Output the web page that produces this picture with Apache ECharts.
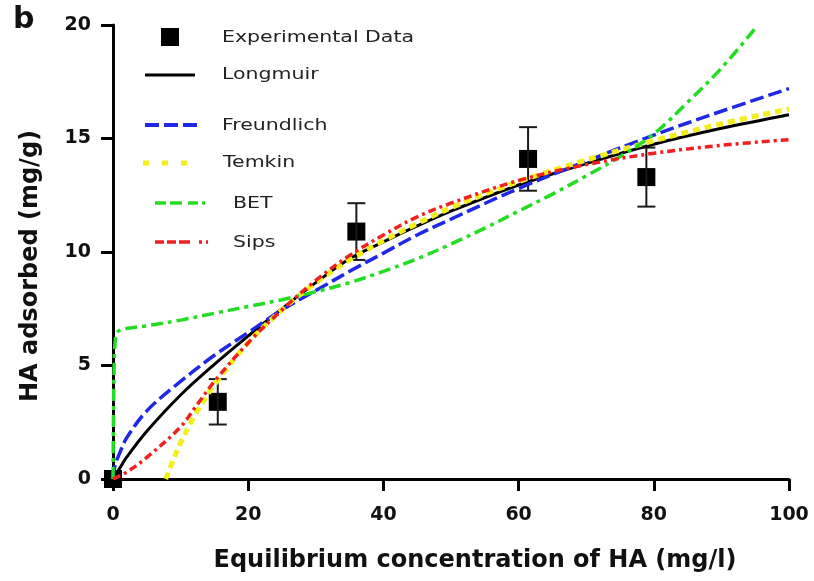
<!DOCTYPE html>
<html>
<head>
<meta charset="utf-8">
<script src="https://cdn.jsdelivr.net/npm/echarts@6/dist/echarts.min.js"></script>
<style>
  html, body { margin: 0; padding: 0; background: #fff; }
  #chart { width: 814px; height: 581px; }
</style>
</head>
<body>
<div id="chart"></div>
<script>
// Measured HA adsorption (mean ± error)
const conc = [0, 15.5, 36, 61.4, 78.9];
const adsorbed = [0, 3.4, 10.9, 14.1, 13.3];
const errBar = [0, 1.0, 1.25, 1.4, 1.3];

// Fitted isotherm curves
const langmuirC = [0, 1, 2, 5, 10, 15, 20, 25, 30, 35, 40, 45, 50, 60, 70, 80, 90, 100];
const langmuirQ = [0, 0.48, 0.95, 2.1, 3.7, 5.05, 6.3, 7.5, 8.65, 9.7, 10.45, 11.15, 11.8, 12.95, 13.9, 14.75, 15.45, 16.05];

const freundlichC = [0, 0.3, 1, 2, 5, 10, 15, 20, 25, 30, 35, 40, 45, 50, 60, 70, 80, 90, 100];
const freundlichQ = [0, 0.6, 1.15, 1.8, 3.0, 4.3, 5.45, 6.45, 7.45, 8.3, 9.15, 9.95, 10.75, 11.45, 12.8, 14.0, 15.15, 16.2, 17.2];

const temkinC = [7.8, 9, 10, 12, 15, 20, 25, 30, 35, 40, 45, 50, 60, 70, 80, 90, 100];
const temkinQ = [0, 0.9, 1.6, 2.75, 4.15, 6.0, 7.45, 8.65, 9.65, 10.5, 11.25, 11.95, 13.1, 14.05, 14.9, 15.65, 16.3];

const betC = [0, 0.15, 0.4, 1, 5, 10, 15, 20, 25, 30, 35, 40, 45, 50, 55, 60, 65, 70, 75, 80, 85, 90, 95];
const betQ = [0, 4.5, 6.3, 6.55, 6.75, 7.0, 7.3, 7.6, 7.9, 8.25, 8.65, 9.15, 9.7, 10.35, 11.05, 11.8, 12.55, 13.35, 14.2, 15.2, 16.6, 18.1, 19.85];

const sipsC = [0, 2, 5, 10, 12.5, 15, 20, 25, 30, 35, 40, 45, 50, 60, 70, 80, 90, 100];
const sipsQ = [0, 0.3, 0.95, 2.3, 3.3, 4.3, 6.0, 7.45, 8.75, 9.85, 10.75, 11.55, 12.15, 13.15, 13.85, 14.35, 14.7, 14.95];

// Axis ticks
const xTicks = [0, 20, 40, 60, 80, 100];
const yTicks = [0, 5, 10, 15, 20];

const FONT = 'DejaVu Sans';
const COLORS = {
  langmuir: '#000000',
  freundlich: '#1e28e6',
  temkin: '#f2ee1a',
  bet: '#22dd22',
  sips: '#f02020'
};
const DASH = {
  freundlich: [14, 5],
  temkin: [7, 5],
  bet: [12, 5, 4, 5],
  sips: [8, 4, 3, 4]
};

const pairs = (xs, ys) => xs.map((x, i) => [x, ys[i]]);

function curve(name, xs, ys, color, width, dash) {
  return {
    name: name,
    type: 'line',
    data: pairs(xs, ys),
    showSymbol: false,
    symbol: 'none',
    smooth: 0.35,
    z: 5,
    lineStyle: { color: color, width: width, type: dash || 'solid', cap: 'butt' },
    emphasis: { disabled: true }
  };
}

const chart = echarts.init(document.getElementById('chart'), null, { renderer: 'canvas' });

// Legend entries drawn as graphic elements
const legendText = (txt, x, y) => ({
  type: 'text',
  x: x, y: y,
  scaleX: 1.28,
  style: {
    text: txt,
    font: '16px "' + FONT + '"',
    fill: '#222',
    textVerticalAlign: 'middle'
  }
});
const legendLine = (x1, x2, y, color, width, dash) => ({
  type: 'line',
  shape: { x1: x1, y1: y, x2: x2, y2: y },
  style: { stroke: color, lineWidth: width, lineDash: dash || null }
});

const option = {
  animation: false,
  backgroundColor: '#ffffff',
  grid: { left: 113, right: 25, top: 25, bottom: 102, containLabel: false },
  xAxis: {
    type: 'value',
    min: xTicks[0],
    max: xTicks[xTicks.length - 1],
    interval: xTicks[1] - xTicks[0],
    name: 'Equilibrium concentration of HA (mg/l)',
    nameLocation: 'middle',
    nameGap: 70,
    nameTextStyle: {
      fontFamily: FONT, fontWeight: 'bold', fontSize: 24, color: '#111',
      padding: [0, 0, 0, 48]
    },
    axisLine: { show: true, onZero: false, lineStyle: { color: '#000', width: 3 } },
    axisTick: { show: true, length: 12, lineStyle: { color: '#000', width: 3 } },
    axisLabel: { fontFamily: FONT, fontWeight: 'bold', fontSize: 19, color: '#111', margin: 27 },
    splitLine: { show: false }
  },
  yAxis: {
    type: 'value',
    min: yTicks[0],
    max: yTicks[yTicks.length - 1],
    interval: yTicks[1] - yTicks[0],
    name: 'HA adsorbed (mg/g)',
    nameLocation: 'middle',
    nameGap: 70,
    nameRotate: 90,
    nameTextStyle: {
      fontFamily: FONT, fontWeight: 'bold', fontSize: 24, color: '#111',
      padding: [0, 28, 0, 0]
    },
    axisLine: { show: true, onZero: false, lineStyle: { color: '#000', width: 3 } },
    axisTick: { show: true, length: 12, lineStyle: { color: '#000', width: 3 } },
    axisLabel: { fontFamily: FONT, fontWeight: 'bold', fontSize: 19, color: '#111', margin: 22 },
    splitLine: { show: false }
  },
  graphic: [
    {
      type: 'text', x: 13, y: 20,
      style: { text: 'b', font: 'bold 30px "' + FONT + '"', fill: '#111', textVerticalAlign: 'middle' }
    },
    {
      type: 'rect', shape: { x: 161, y: 28, width: 18, height: 18 },
      style: { fill: '#000' }
    },
    legendText('Experimental Data', 222, 38),
    legendLine(145, 195, 75, COLORS.langmuir, 3),
    legendText('Longmuir', 222, 75),
    legendLine(145, 197, 125, COLORS.freundlich, 4, DASH.freundlich),
    legendText('Freundlich', 222, 126),
    legendLine(143, 196, 163, COLORS.temkin, 5, [6, 13]),
    legendText('Temkin', 223, 163),
    legendLine(155, 208, 203, COLORS.bet, 3.5, [11, 4, 12, 6, 10, 4, 3, 4]),
    legendText('BET', 233, 204),
    legendLine(155, 208, 242, COLORS.sips, 3.5, [9, 3, 9, 3, 11, 9, 3, 4]),
    legendText('Sips', 233, 243)
  ],
  series: [
    {
      name: 'Experimental Data',
      type: 'scatter',
      data: pairs(conc, adsorbed),
      symbol: 'rect',
      symbolSize: 18,
      itemStyle: { color: '#000', opacity: 1 },
      z: 2,
      emphasis: { disabled: true }
    },
    {
      name: 'error',
      type: 'custom',
      data: conc.map((c, i) => [c, adsorbed[i], errBar[i]]),
      z: 3,
      renderItem: function (params, api) {
        const x = api.value(0), y = api.value(1), e = api.value(2);
        if (!e) return null;
        const top = api.coord([x, y + e]);
        const bot = api.coord([x, y - e]);
        const half = 9;
        const st = { stroke: '#1a1a1a', lineWidth: 2 };
        return {
          type: 'group',
          children: [
            { type: 'line', shape: { x1: top[0], y1: top[1], x2: bot[0], y2: bot[1] }, style: st },
            { type: 'line', shape: { x1: top[0] - half, y1: top[1], x2: top[0] + half, y2: top[1] }, style: st },
            { type: 'line', shape: { x1: bot[0] - half, y1: bot[1], x2: bot[0] + half, y2: bot[1] }, style: st }
          ]
        };
      }
    },
    curve('Longmuir', langmuirC, langmuirQ, COLORS.langmuir, 3),
    curve('Freundlich', freundlichC, freundlichQ, COLORS.freundlich, 3.5, DASH.freundlich),
    curve('Temkin', temkinC, temkinQ, COLORS.temkin, 5, DASH.temkin),
    curve('BET', betC, betQ, COLORS.bet, 3.5, DASH.bet),
    curve('Sips', sipsC, sipsQ, COLORS.sips, 3.5, DASH.sips)
  ]
};

chart.setOption(option);
</script>
</body>
</html>
